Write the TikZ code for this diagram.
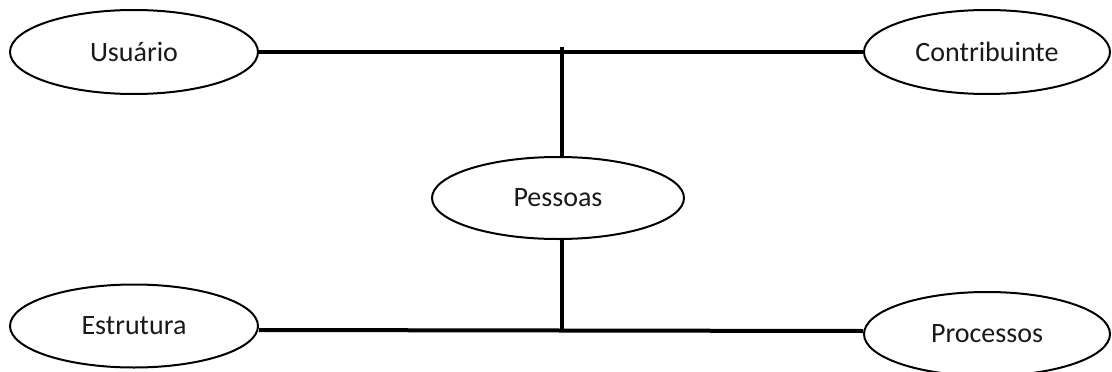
\documentclass[tikz,border=0pt]{standalone}
\usepackage{fontspec}
\setmainfont{Carlito}
\usetikzlibrary{shapes.geometric}
\begin{document}
\begin{tikzpicture}[x=1pt,y=-1pt,
  ell/.style={ellipse,draw=black,line width=2pt,inner sep=0pt,font=\fontsize{28}{32}\selectfont,text=black!90},
  conn/.style={line width=4pt,black}]
\useasboundingbox (0,0) rectangle (1112,372);
\node[ell,minimum width=248,minimum height=84] (U) at (134,52) {Usuário};
\node[ell,minimum width=246,minimum height=84] (C) at (987,52) {Contribuinte};
\node[ell,minimum width=252,minimum height=82] (P) at (558,198) {Pessoas};
\node[ell,minimum width=248,minimum height=83] (E) at (134,326) {Estrutura};
\node[ell,minimum width=246,minimum height=84] (R) at (987,334) {Processos};
\coordinate (jt) at (562,47);
\coordinate (jb) at (562,330);
\draw[conn] (U.east) -- (C.west);
\draw[conn] (jt) -- (jt |- P.north);
\draw[conn] ([yshift=-4pt]E.east) -- ([yshift=3pt]R.west);
\draw[conn] (jb |- P.south) -- (jb);
\end{tikzpicture}
\end{document}
